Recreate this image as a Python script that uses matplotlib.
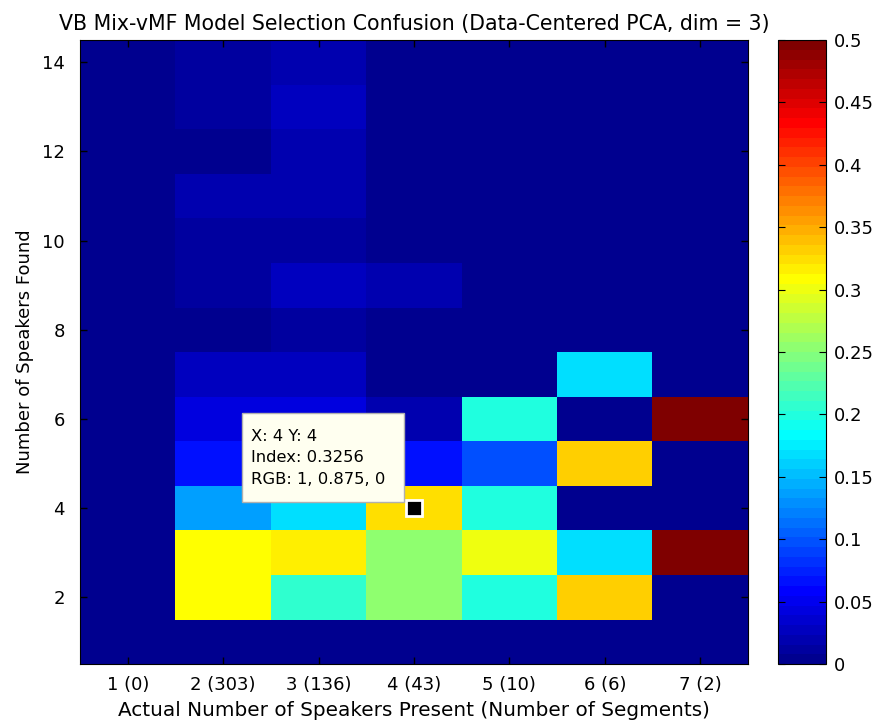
import numpy as np
import matplotlib
matplotlib.use('Agg')
import matplotlib.pyplot as plt
from matplotlib.colors import ListedColormap
from matplotlib.patches import Rectangle

# categories
actual_speakers = [1, 2, 3, 4, 5, 6, 7]
segment_counts = [0, 303, 136, 43, 10, 6, 2]
found_speakers = list(range(1, 15))

# fraction of segments per (found, actual); one list per column, rows y = 1..14
col1 = [0, 0, 0, 0, 0, 0, 0, 0, 0, 0, 0, 0, 0, 0]
col2 = [0, 0.308, 0.308, 0.137, 0.066, 0.043, 0.03, 0.007, 0.014, 0.008, 0.023, 0.005, 0.014, 0.014]
col3 = [0, 0.206, 0.316, 0.168, 0.066, 0.043, 0.03, 0.014, 0.03, 0.014, 0.02, 0.02, 0.027, 0.02]
col4 = [0, 11/43, 11/43, 14/43, 3/43, 1/43, 0, 0, 1/43, 0, 0, 0, 0, 0]
col5 = [0, 0.2, 0.3, 0.2, 0.1, 0.2, 0, 0, 0, 0, 0, 0, 0, 0]
col6 = [0, 2/6, 1/6, 0, 2/6, 0, 1/6, 0, 0, 0, 0, 0, 0, 0]
col7 = [0, 0, 0.5, 0, 0, 0.5, 0, 0, 0, 0, 0, 0, 0, 0]

# data cursor
cursor_x, cursor_y = 4, 4
cursor_lines = ['X: 4 Y: 4', 'Index: 0.3256', 'RGB: 1, 0.875, 0']

conf = np.array([col1, col2, col3, col4, col5, col6, col7]).T


def matlab_jet(m=64):
    # same construction as MATLAB's jet(m)
    n = int(np.ceil(m / 4))
    u = np.concatenate([np.arange(1, n + 1) / n, np.ones(n - 1), np.arange(n, 0, -1) / n])
    g = int(np.ceil(n / 2)) - (1 if m % 4 == 1 else 0) + np.arange(1, len(u) + 1)
    r = g + n
    b = g - n
    J = np.zeros((m, 3))
    for ch, idx in ((0, r), (1, g), (2, b)):
        ok = (idx >= 1) & (idx <= m)
        J[idx[ok] - 1, ch] = u[ok]
    return ListedColormap(J)


plt.rcParams['font.family'] = ['DejaVu Sans']
plt.rcParams['font.size'] = 13

fig = plt.figure(figsize=(8.81, 7.24), dpi=100)
ax = fig.add_axes([80/881, 1-664/724, (748-80)/881, (664-40)/724])
cax = fig.add_axes([778/881, 1-664/724, 48/881, (664-40)/724])

im = ax.imshow(conf, cmap=matlab_jet(64), vmin=0, vmax=0.5, origin='lower', aspect='auto',
               interpolation='nearest',
               extent=[0.5, len(actual_speakers)+0.5, 0.5, len(found_speakers)+0.5])

ax.set_xticks(actual_speakers)
ax.set_xticklabels(['%d (%d)' % (a, n) for a, n in zip(actual_speakers, segment_counts)])
ax.set_yticks(found_speakers[1::2])
ax.tick_params(direction='in', top=True, right=True, length=5, width=1)
ax.tick_params(axis='y', pad=11)
ax.tick_params(axis='x', pad=9)
ax.set_xlabel('Actual Number of Speakers Present (Number of Segments)', fontsize=14.4, labelpad=5)
ax.set_ylabel('Number of Speakers Found', fontsize=13, labelpad=6)
ax.set_title('VB Mix-vMF Model Selection Confusion (Data-Centered PCA, dim = 3)',
             fontsize=14.8, pad=7)

# data cursor marker and tip box
ax.plot(cursor_x, cursor_y, marker='s', ms=11, mfc='black', mec='white', mew=2)
ax.add_patch(Rectangle((2.2, 4.13), 1.69, 2.0, facecolor='#fffff0', edgecolor='#b0b0b0', lw=1, zorder=5))
ax.text(2.29, 5.13, '\n'.join(cursor_lines), va='center', ha='left', fontsize=11.8,
        linespacing=1.55, zorder=6)

cb = fig.colorbar(im, cax=cax)
cb.set_ticks(np.arange(0, 0.51, 0.05))
cb.set_ticklabels(['0', '0.05', '0.1', '0.15', '0.2', '0.25', '0.3', '0.35', '0.4', '0.45', '0.5'])
cax.tick_params(direction='in', length=5, left=True, right=True, pad=6, labelsize=13)

fig.savefig('out.png', dpi=100)
